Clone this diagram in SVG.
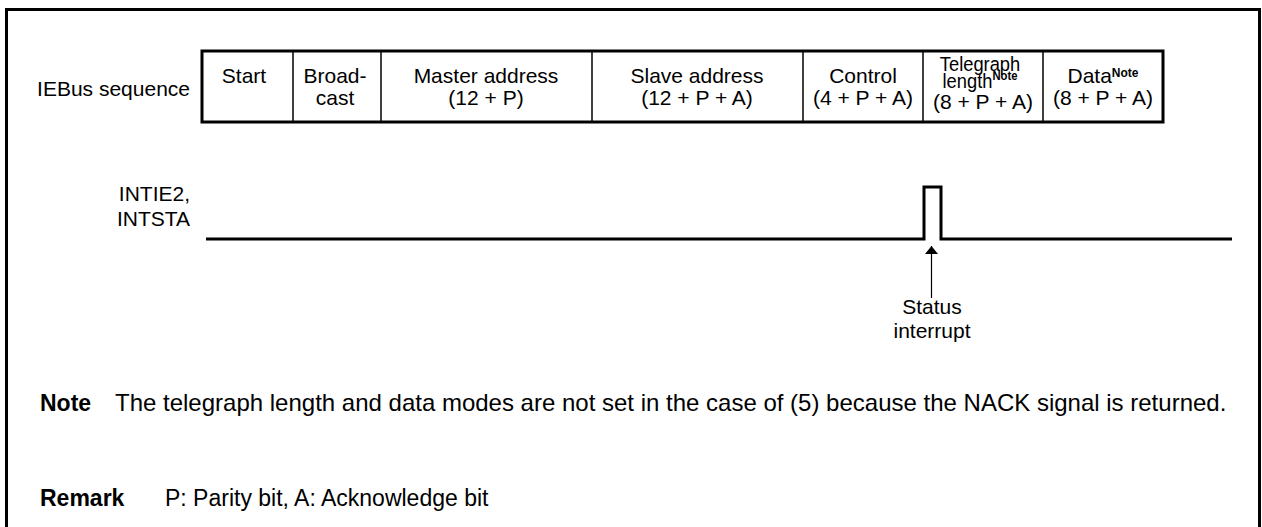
<svg xmlns="http://www.w3.org/2000/svg" width="1262" height="527" viewBox="0 0 1262 527">
<defs>
<style>
text{font-family:"Liberation Sans",Arial,sans-serif;fill:#000}
.t{font-size:21px}
.c{text-anchor:middle}
.r{text-anchor:end}
.n{font-size:23px}
.nt{font-size:24px}
.b{font-weight:bold}
.sup{font-size:12px;font-weight:bold}
.tg{font-size:19.5px}
.thick{fill:none;stroke:#000;stroke-width:3}
.thin{fill:none;stroke:#000;stroke-width:1.5}
.arr{fill:none;stroke:#000;stroke-width:1.2}
</style>
<marker id="ah" viewBox="0 0 10 10" refX="10" refY="5" markerUnits="userSpaceOnUse" markerWidth="8" markerHeight="13" orient="auto" preserveAspectRatio="none">
<path d="M0,0 L10,5 L0,10 Z" fill="#000"/>
</marker>
</defs>
<rect width="1262" height="527" fill="#fff"/>
<path class="thick" d="M6.5,527 V9.5 H1259.5 V527"/>

<g id="label-iebus"><text class="t r" x="190" y="96">IEBus sequence</text></g>

<g id="table">
<rect class="thick" x="202" y="51" width="961" height="71"/>
<path class="thin" d="M293,51V122M381,51V122M592,51V122M803,51V122M923,51V122M1043,51V122"/>
</g>
<g id="cell-start"><text class="t c" x="244" y="83">Start</text></g>
<g id="cell-broadcast"><text class="t c" x="335" y="83"><tspan x="335">Broad-</tspan><tspan x="335" y="105">cast</tspan></text></g>
<g id="cell-master"><text class="t c" x="486" y="83"><tspan x="486">Master address</tspan><tspan x="486" y="105">(12 + P)</tspan></text></g>
<g id="cell-slave"><text class="t c" x="697" y="83"><tspan x="697">Slave address</tspan><tspan x="697" y="105">(12 + P + A)</tspan></text></g>
<g id="cell-control"><text class="t c" x="863" y="83"><tspan x="863">Control</tspan><tspan x="863" y="105">(4 + P + A)</tspan></text></g>
<g id="cell-telegraph">
<g transform="translate(980 0) scale(0.94 1)"><text class="tg c" y="71"><tspan x="0">Telegraph</tspan><tspan x="0" y="88">length</tspan><tspan class="sup" dy="-8">Note</tspan></text></g>
<text class="t c" x="983" y="109">(8 + P + A)</text>
</g>
<g id="cell-data"><text class="t c" x="1103" y="83"><tspan x="1103">Data<tspan class="sup" dy="-6">Note</tspan></tspan><tspan x="1103" y="105">(8 + P + A)</tspan></text></g>

<g id="label-int"><text class="t r" x="190" y="201"><tspan x="190">INTIE2,</tspan><tspan x="190" y="226">INTSTA</tspan></text></g>
<g id="signal"><path class="thick" d="M206,239 H924 V187 H941 V239 H1232"/></g>

<g id="connectors"><path class="arr" d="M931.5,298 V246" marker-end="url(#ah)"/></g>
<g id="label-status"><text class="t c" x="932" y="314"><tspan x="932">Status</tspan><tspan x="932" y="338">interrupt</tspan></text></g>

<g id="note"><text class="n b" x="40" y="411">Note</text><text class="nt" x="115" y="411">The telegraph length and data modes are not set in the case of (5) because the NACK signal is returned.</text></g>
<g id="remark"><text class="n b" x="40" y="506">Remark</text><text class="n" x="165" y="506">P: Parity bit, A: Acknowledge bit</text></g>
</svg>
